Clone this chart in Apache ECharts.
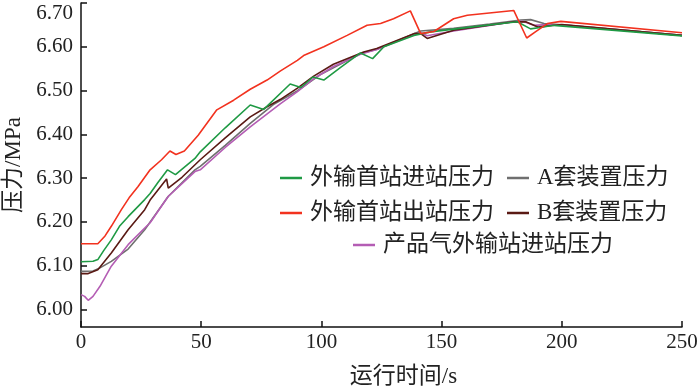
<!DOCTYPE html>
<html>
<head>
<meta charset="utf-8">
<script src="https://cdn.jsdelivr.net/npm/echarts@6/dist/echarts.min.js"></script>
<style>html,body{margin:0;padding:0;background:#fff;}#c{width:700px;height:389px;}</style>
</head>
<body>
<div id="c"></div>
<script>
var seriesNames = ['外输首站进站压力', '外输首站出站压力', 'A套装置压力', 'B套装置压力', '产品气外输站进站压力'];
var xTicks = [0, 50, 100, 150, 200, 250];
var yTicks = [6.00, 6.10, 6.20, 6.30, 6.40, 6.50, 6.60, 6.70];

var inletFirst = [[0,6.109],[5,6.110],[7,6.114],[9.5,6.135],[12.6,6.159],[16,6.19],[19.6,6.212],[26.5,6.251],[28.75,6.265],[32,6.29],[36,6.319],[39.3,6.308],[47.4,6.345],[49.6,6.36],[60,6.415],[70.4,6.467],[76,6.457],[87,6.515],[91.5,6.507],[96.5,6.531],[101,6.524],[108,6.553],[116.25,6.586],[121.3,6.573],[126,6.600],[138.5,6.626],[145.4,6.634],[162,6.645],[181.5,6.657],[187,6.641],[191,6.644],[196.7,6.649],[250,6.625]];
var outletFirst = [[0,6.150],[7,6.150],[10,6.168],[12.6,6.19],[16.8,6.228],[20,6.255],[23.75,6.281],[28.75,6.319],[33.5,6.342],[37,6.362],[39.5,6.354],[43,6.362],[48.75,6.398],[56.5,6.456],[63.5,6.478],[70.4,6.503],[77.4,6.524],[83,6.545],[90,6.569],[92.6,6.58],[101,6.600],[110.7,6.626],[119,6.649],[124.6,6.653],[130,6.664],[137,6.682],[141.3,6.63],[146.8,6.635],[155,6.664],[160.7,6.672],[180,6.683],[185.4,6.620],[189,6.634],[194,6.653],[199.6,6.658],[250,6.632]];
var unitA = [[0,6.087],[5,6.088],[7.9,6.095],[12.6,6.11],[19.6,6.138],[26.5,6.182],[36.25,6.258],[47.4,6.319],[49.6,6.327],[60,6.375],[70.4,6.425],[80,6.468],[89.9,6.499],[100,6.538],[117,6.586],[123,6.594],[138.5,6.630],[141.3,6.636],[155,6.642],[170,6.652],[183,6.661],[187,6.662],[192.6,6.653],[200,6.650],[250,6.626]];
var unitB = [[0,6.082],[3,6.082],[7,6.091],[12.6,6.129],[19.6,6.182],[26.5,6.228],[28.75,6.250],[35.6,6.298],[36.3,6.277],[42,6.302],[49.6,6.342],[60,6.392],[70.4,6.44],[77.4,6.463],[83,6.480],[89.9,6.505],[96.8,6.533],[105,6.56],[117.6,6.588],[123,6.596],[138.5,6.630],[141.3,6.630],[144,6.619],[155,6.638],[180,6.657],[185,6.657],[190,6.645],[195,6.648],[200,6.651],[250,6.626]];
var productInlet = [[0,6.034],[1.5,6.030],[3,6.021],[5,6.03],[7.9,6.053],[12.6,6.099],[19.6,6.148],[26.5,6.186],[28.75,6.198],[36.25,6.258],[47.4,6.315],[49.6,6.319],[60,6.37],[70.4,6.417],[83,6.470],[89.9,6.497],[96.8,6.527],[105,6.555],[116.25,6.583],[123,6.594],[138.5,6.628],[141.3,6.632],[144,6.625],[155,6.636],[180,6.657],[184,6.658],[188.5,6.649],[192,6.650],[200,6.650],[250,6.626]];

var colors = {
  '外输首站进站压力': '#1f9a44',
  '外输首站出站压力': '#f2321f',
  'A套装置压力': '#6f6f6f',
  'B套装置压力': '#5a1a14',
  '产品气外输站进站压力': '#b45db4'
};
var dataMap = {
  '外输首站进站压力': inletFirst,
  '外输首站出站压力': outletFirst,
  'A套装置压力': unitA,
  'B套装置压力': unitB,
  '产品气外输站进站压力': productInlet
};
var drawOrder = ['A套装置压力', '产品气外输站进站压力', 'B套装置压力', '外输首站进站压力', '外输首站出站压力'];

var FONT = "'Liberation Serif', 'Noto Sans CJK SC', serif";

function legendAt(name, left, top) {
  return {
    data: [name], left: left, top: top, padding: 0, orient: 'horizontal',
    icon: 'rect', itemWidth: 22, itemHeight: 2.5, selectedMode: false,
    textStyle: { fontFamily: FONT, fontSize: 23, color: '#222', lineHeight: 24, padding: [0, 0, 0, 3] }
  };
}

var chart = echarts.init(document.getElementById('c'), null, { renderer: 'canvas' });
chart.setOption({
  animation: false,
  backgroundColor: '#fff',
  grid: { left: 81, right: 18, top: 3, bottom: 62, containLabel: false, outerBoundsMode: 'none' },
  legend: [
    legendAt(seriesNames[0], 280, 166),
    legendAt(seriesNames[2], 507, 166),
    legendAt(seriesNames[1], 280, 201),
    legendAt(seriesNames[3], 507, 201),
    legendAt(seriesNames[4], 353, 233)
  ],
  xAxis: {
    type: 'value', min: xTicks[0], max: xTicks[xTicks.length - 1], interval: 50,
    name: '运行时间/s', nameLocation: 'middle', nameGap: 38,
    nameTextStyle: { fontFamily: FONT, fontSize: 23, color: '#222', padding: [0, 0, 0, 44] },
    axisLine: { lineStyle: { color: '#111', width: 1.5 } },
    axisTick: { inside: true, length: 6, lineStyle: { color: '#111', width: 1.5 } },
    axisLabel: { fontFamily: FONT, fontSize: 21, color: '#222', margin: 5 },
    splitLine: { show: false }
  },
  yAxis: {
    type: 'value', min: 5.96, max: 6.70,
    name: '压力/MPa', nameLocation: 'middle', nameGap: 56, nameRotate: 90,
    nameTextStyle: { fontFamily: FONT, fontSize: 23, color: '#222' },
    axisLine: { show: true, lineStyle: { color: '#111', width: 1.5 } },
    axisTick: { show: true, inside: true, length: 6, lineStyle: { color: '#111', width: 1.5 }, customValues: yTicks },
    axisLabel: { fontFamily: FONT, fontSize: 21, color: '#222', margin: 8, customValues: yTicks,
      verticalAlignMaxLabel: 'top',
      formatter: function (v) { return Number(v).toFixed(2); } },
    splitLine: { show: false }
  },
  series: drawOrder.map(function (n) {
    return {
      name: n, type: 'line', data: dataMap[n], symbol: 'none', smooth: false,
      color: colors[n], lineStyle: { color: colors[n], width: 1.6 }
    };
  })
});
</script>
</body>
</html>
